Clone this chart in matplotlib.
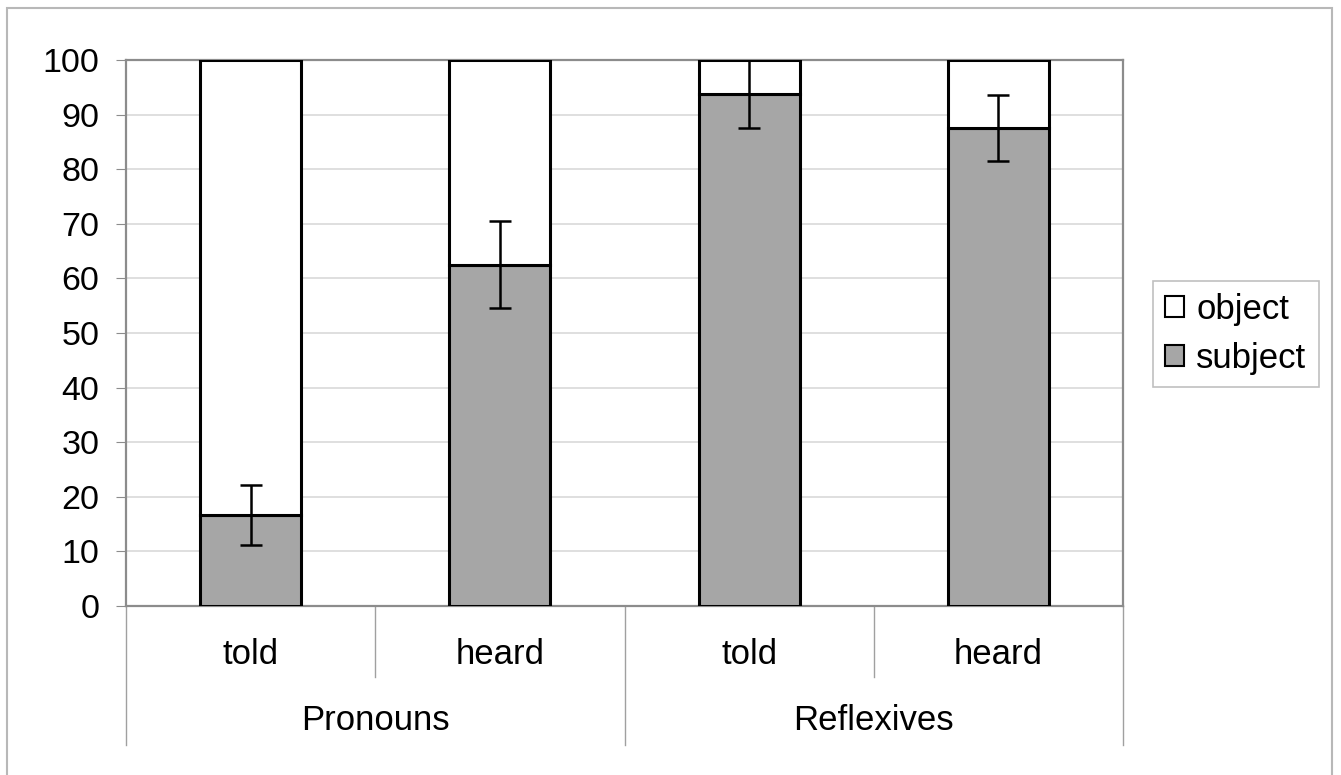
"""Stacked subject/object bars with error bars, grouped category axis"""

import matplotlib.pyplot as plt
from matplotlib.patches import Rectangle, Patch
import numpy as np

plt.rcParams['font.family'] = ['Liberation Sans', 'DejaVu Sans']

# data
conditions = ['told', 'heard', 'told', 'heard']
groups = ['Pronouns', 'Reflexives']
subject = [16.7, 62.5, 93.75, 87.5]
subject_err = [5.5, 8.0, 6.25, 6.0]
obj = [100 - s for s in subject]

GREY = '#a6a6a6'
AXIS = '#8c8c8c'
FS = 25

fig = plt.figure(figsize=(13.41, 7.75), dpi=100)
ax = fig.add_axes([126 / 1341, 1 - 606 / 775, (1123 - 126) / 1341, (606 - 60) / 775])

x = np.arange(len(conditions))
width = 0.405

# subject at the bottom, object stacked on top
ax.bar(x, subject, width, color=GREY, edgecolor='black', linewidth=2.2, zorder=3)
ax.bar(x, obj, width, bottom=subject, color='white', edgecolor='black', linewidth=2.2,
       zorder=3)
ax.errorbar(x, subject, yerr=subject_err, fmt='none', ecolor='black', elinewidth=1.8,
            capsize=8, capthick=1.8, zorder=4)

ax.set_xlim(-0.5, len(conditions) - 0.5)
ax.set_ylim(0, 100)
ax.set_yticks(np.arange(0, 101, 10))
ax.tick_params(axis='y', labelsize=24.5, length=7, color=AXIS, pad=12)
ax.set_xticks([])
ax.grid(axis='y', color='#d9d9d9', linewidth=1.2, zorder=0)
ax.set_axisbelow(True)

for spine in ax.spines.values():
    spine.set_color(AXIS)
    spine.set_linewidth(1.6)

# multi level category axis below the plot
trans = ax.get_xaxis_transform()
low = -0.130
bottom = -0.2546
for i, label in enumerate(conditions):
    ax.text(i, -0.088, label, transform=trans, ha='center', va='center', fontsize=FS)
for j, label in enumerate(groups):
    ax.text(2 * j + 0.5, -0.209, label, transform=trans, ha='center', va='center',
            fontsize=FS)
for xs, yb in [(-0.5, bottom), (0.5, low), (1.5, bottom), (2.5, low), (3.5, bottom)]:
    ax.plot([xs, xs], [0, yb], transform=trans, color='#a0a0a0', linewidth=1.0,
            clip_on=False)

handles = [Patch(facecolor='white', edgecolor='black', linewidth=1.5, label='object'),
           Patch(facecolor=GREY, edgecolor='black', linewidth=1.5, label='subject')]
leg = fig.legend(handles=handles, loc='center left',
                 bbox_to_anchor=(1153 / 1341, 1 - 334 / 775),
                 fontsize=FS, frameon=True, fancybox=False, handlelength=0.55,
                 handleheight=0.55, handletextpad=0.35, borderpad=0.35, labelspacing=0.45,
                 borderaxespad=0)
leg.get_frame().set_edgecolor('#b0b0b0')
leg.get_frame().set_linewidth(1.2)

# outer chart border, bottom edge lies below the picture
fig.patches.append(Rectangle((7 / 1341, -0.01), 1 - 16 / 1341, 1.01 - 8 / 775,
                             transform=fig.transFigure, fill=False,
                             edgecolor='#b8b8b8', linewidth=1.5))

fig.savefig('out.png', dpi=100)
